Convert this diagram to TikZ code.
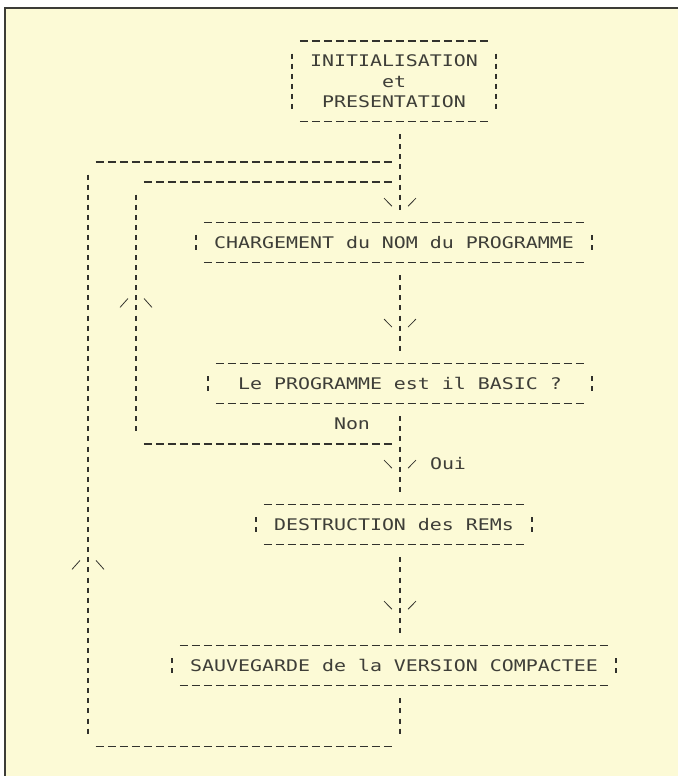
\documentclass[tikz,border=0pt]{standalone}
\usepackage{fontspec}
\newfontfamily\dotfamily[FakeStretch=1.245]{DejaVu Sans Mono}
\newcommand\dottxt{\dotfamily\fontsize{16pt}{19pt}\selectfont}
\definecolor{paper}{RGB}{252,250,214}
\definecolor{ink}{RGB}{50,50,45}
\definecolor{textink}{RGB}{62,62,56}
\definecolor{framecol}{RGB}{60,60,55}
\begin{document}
\begin{tikzpicture}[x=12pt,y=-20.15pt,
  hdash/.style={draw=ink,line width=1.25pt,dash pattern=on 8.5pt off 3.5pt,dash phase=10.25pt},
  vbar/.style={draw=ink,line width=1.25pt,dash pattern=on 5pt off 5.075pt,dash phase=7.5375pt},
  slash/.style={draw=ink,line width=0.8pt},
  txt/.style={text=textink,inner sep=0pt,anchor=base,font=\dottxt},
  frame/.style={draw=framecol,line width=2pt},
  dnarr/.pic={\draw[slash] (-1.33,-0.2) -- (-0.67,0.2); \draw[slash] (0.67,0.2) -- (1.33,-0.2);},
  uparr/.pic={\draw[slash] (-1.33,0.22) -- (-0.67,-0.22); \draw[slash] (0.67,-0.22) -- (1.33,0.22);}]

% page, paper and frame
\useasboundingbox (-7.3333,-2.0347) rectangle (49.1667,36.4764);
\fill[white] (-7.3333,-2.0347) rectangle (49.1667,36.4764);
\fill[paper] (-6.9167,-1.6377) rectangle (49.1667,36.4764);
\draw[frame] (49.1667,-1.6377) -- (-6.9167,-1.6377) -- (-6.9167,36.4764);

% texts
\node[txt] (t1)  at (25.5,1.29)  {INITIALISATION};
\node[txt] (t1b) at (25.5,2.29)  {et};
\node[txt] (t1c) at (25.5,3.29)  {PRESENTATION};
\node[txt] (t2)  at (25.5,10.29) {CHARGEMENT du NOM du PROGRAMME};
\node[txt] (t3)  at (26,17.29)   {Le PROGRAMME est il BASIC ?};
\node[txt] (non) at (22,19.29)   {Non};
\node[txt] (oui) at (30,21.29)   {Oui};
\node[txt] (t4)  at (25.5,24.29) {DESTRUCTION des REMs};
\node[txt] (t5)  at (25.5,31.29) {SAUVEGARDE de la VERSION COMPACTEE};

% box 1
\draw[hdash] (17.5,0) -- (33.5,0);
\draw[hdash] (17.5,4) -- (33.5,4);
\draw[vbar] (17,0.5) -- (17,3.5);
\draw[vbar] (34,0.5) -- (34,3.5);
% box 2
\draw[hdash] (9.5,9) -- (41.5,9);
\draw[hdash] (9.5,11) -- (41.5,11);
\draw[vbar] (9,9.5) -- (9,10.5);
\draw[vbar] (42,9.5) -- (42,10.5);
% box 3
\draw[hdash] (10.5,16) -- (41.5,16);
\draw[hdash] (10.5,18) -- (41.5,18);
\draw[vbar] (10,16.5) -- (10,17.5);
\draw[vbar] (42,16.5) -- (42,17.5);
% box 4
\draw[hdash] (14.5,23) -- (36.5,23);
\draw[hdash] (14.5,25) -- (36.5,25);
\draw[vbar] (14,23.5) -- (14,24.5);
\draw[vbar] (37,23.5) -- (37,24.5);
% box 5
\draw[hdash] (7.5,30) -- (43.5,30);
\draw[hdash] (7.5,32) -- (43.5,32);
\draw[vbar] (7,30.5) -- (7,31.5);
\draw[vbar] (44,30.5) -- (44,31.5);

% junction coordinates
\coordinate (m1a) at (26,4.5);  \coordinate (m1b) at (26,8.5);
\coordinate (m2a) at (26,11.5); \coordinate (m2b) at (26,15.5);
\coordinate (m3a) at (26,18.5); \coordinate (m3b) at (26,22.5);
\coordinate (m4a) at (26,25.5); \coordinate (m4b) at (26,29.5);
\coordinate (m5a) at (26,32.5); \coordinate (m5b) at (26,34.5);
\coordinate (oTr) at (25.5,6);  \coordinate (oTl) at (0.5,6);
\coordinate (oVt) at (0,6.5);   \coordinate (oVb) at (0,34.5);
\coordinate (oBl) at (0.5,35);  \coordinate (oBr) at (25.5,35);
\coordinate (iTr) at (25.5,7);  \coordinate (iTl) at (4.5,7);
\coordinate (iVt) at (4,7.5);   \coordinate (iVb) at (4,19.5);
\coordinate (iBl) at (4.5,20);  \coordinate (iBr) at (25.5,20);
\coordinate (a1) at (26,8);  \coordinate (a2) at (26,14);
\coordinate (a3) at (26,21); \coordinate (a4) at (26,28);
\coordinate (u1) at (4,13);  \coordinate (u2) at (0,26);

% main flow
\draw[vbar] (m1a) -- (m1b);
\draw[vbar] (m2a) -- (m2b);
\draw[vbar] (m3a) -- (m3b);
\draw[vbar] (m4a) -- (m4b);
\draw[vbar] (m5a) -- (m5b);
% outer loop
\draw[hdash] (oTl) -- (oTr);
\draw[vbar] (oVt) -- (oVb);
\draw[hdash] (oBl) -- (oBr);
% inner loop
\draw[hdash] (iTl) -- (iTr);
\draw[vbar] (iVt) -- (iVb);
\draw[hdash] (iBl) -- (iBr);

% arrowheads
\pic at (a1) {dnarr};
\pic at (a2) {dnarr};
\pic at (a3) {dnarr};
\pic at (a4) {dnarr};
\pic at (u1) {uparr};
\pic at (u2) {uparr};
\end{tikzpicture}
\end{document}
